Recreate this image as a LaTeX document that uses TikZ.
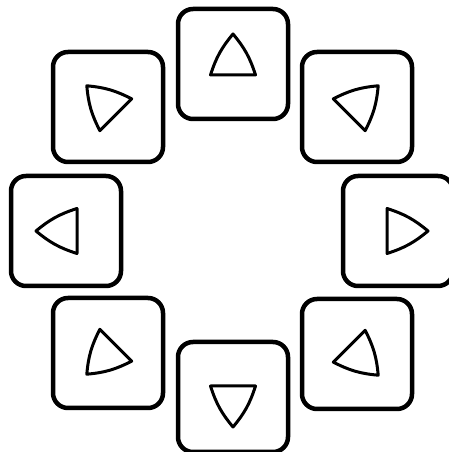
\documentclass[tikz,border=0pt]{standalone}
\usepackage{xcolor}
\usepackage{tikz}
\usetikzlibrary{positioning}
\definecolor{padline}{RGB}{0,0,0}
\tikzset{
  padbox/.style={
    rectangle,
    rounded corners=15pt,
    draw=padline,
    line width=4.5pt,
    minimum width=110pt,
    minimum height=110pt,
    inner sep=0pt
  },
  pointer/.pic={
    \draw[line width=3pt, line join=round, draw=padline]
      (-22.5,-11) to[bend left=11] (0,30) to[bend left=11] (22.5,-11) -- cycle;
  }
}

\begin{document}
\begin{tikzpicture}[x=1pt,y=1pt]
\useasboundingbox (0,0) rectangle (449,452);
\clip (0,0) rectangle (449,452);
\node[padbox] (up) at (233,388) {};
\node[padbox] (upright) at (357,345) {};
\node[padbox] (right) at (398,221) {};
\node[padbox] (downright) at (357,98) {};
\node[padbox] (down) at (233,55) {};
\node[padbox] (downleft) at (108,99) {};
\node[padbox] (left) at (66,221) {};
\node[padbox] (upleft) at (108,345) {};

\pic at (up) {pointer};
\pic[rotate=-45] at (upright) {pointer};
\pic[rotate=-90] at (right) {pointer};
\pic[rotate=-135] at (downright) {pointer};
\pic[rotate=180] at (down) {pointer};
\pic[rotate=135] at (downleft) {pointer};
\pic[rotate=90] at (left) {pointer};
\pic[rotate=45] at (upleft) {pointer};
\end{tikzpicture}
\end{document}
